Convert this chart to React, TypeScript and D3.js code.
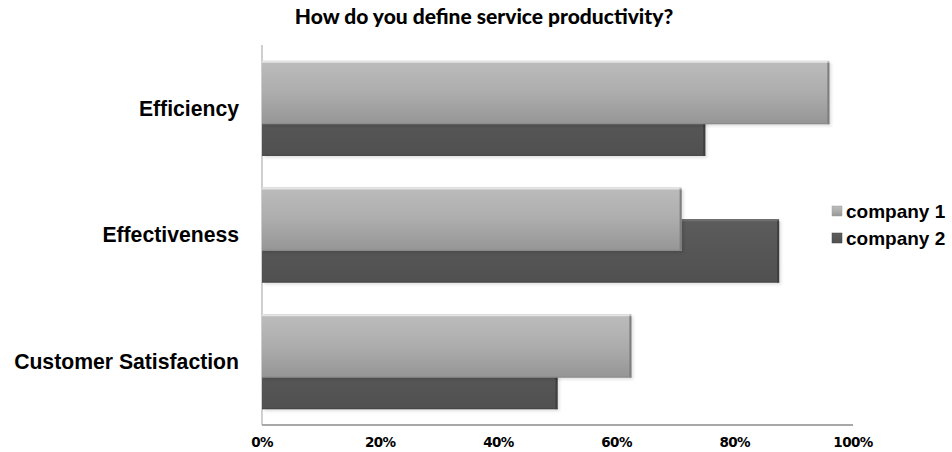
import React from "react";
import * as d3 from "d3";

const categories = ["Efficiency", "Effectiveness", "Customer Satisfaction"];
const company1 = [0.96, 0.71, 0.625];
const company2 = [0.75, 0.875, 0.5];
const seriesNames = ["company 1", "company 2"];
const tickValues = [0, 0.2, 0.4, 0.6, 0.8, 1.0];
const title = "How do you define service productivity?";

const W = 952;
const H = 452;
const left = 262;
const right = 853;
const top = 45;
const bottom = 425;

export default function App() {
  const x = d3.scaleLinear().domain([0, 1]).range([left, right]);
  const y = d3
    .scaleBand<string>()
    .domain(categories)
    .range([top, bottom])
    .paddingInner(0.25)
    .paddingOuter(0.125);
  const barH = y.bandwidth() / 1.5;
  const fmt = d3.format(".0%");

  const bar = (v: number, yy: number, fill: string, key: string, light: boolean) => {
    const w = x(v) - x(0);
    return (
      <g key={key}>
        <rect x={x(0) + 2} y={yy + 2} width={w} height={barH} fill="#000" opacity={0.12} filter="url(#blur)" />
        <rect x={x(0)} y={yy} width={w} height={barH} fill={fill} />
        <line x1={x(0)} x2={x(0) + w - 2} y1={yy + 1} y2={yy + 1} stroke={light ? "#e4e4e4" : "#6e6e6e"} strokeWidth={2} />
        <line x1={x(0) + w - 1} x2={x(0) + w - 1} y1={yy + 2} y2={yy + barH} stroke={light ? "#7e7e7e" : "#3e3e3e"} strokeWidth={2} />
        <line x1={x(0)} x2={x(0) + w} y1={yy + barH - 0.5} y2={yy + barH - 0.5} stroke={light ? "#8a8a8a" : "#454545"} strokeWidth={1} />
      </g>
    );
  };

  return (
    <div style={{ position: "absolute", left: 0, top: 0 }}>
      <svg width={W} height={H} style={{ display: "block", background: "#fff" }}>
        <defs>
          <linearGradient id="g1" x1="0" y1="0" x2="0" y2="1">
            <stop offset="0" stopColor="#bcbcbc" />
            <stop offset="0.5" stopColor="#adadad" />
            <stop offset="1" stopColor="#959595" />
          </linearGradient>
          <linearGradient id="g2" x1="0" y1="0" x2="0" y2="1">
            <stop offset="0" stopColor="#5c5c5c" />
            <stop offset="1" stopColor="#505050" />
          </linearGradient>
          <filter id="blur" x="-5%" y="-20%" width="110%" height="140%">
            <feGaussianBlur stdDeviation="1.5" />
          </filter>
        </defs>

        <text x={484} y={24} textAnchor="middle" fontFamily="Lato" fontWeight={900} fontSize={21} fill="#000">
          {title}
        </text>

        {/* axes */}
        <line x1={left} x2={left} y1={top} y2={bottom} stroke="#b0b0b0" strokeWidth={1.2} />
        <line x1={left} x2={right} y1={bottom} y2={bottom} stroke="#a8a8a8" strokeWidth={2} />

        {categories.map((c, i) => {
          const y0 = y(c)!;
          return (
            <g key={c}>
              {bar(company2[i], y0 + barH / 2, "url(#g2)", "b", false)}
              {bar(company1[i], y0, "url(#g1)", "a", true)}
              <text
                x={239}
                y={y0 + y.bandwidth() / 2}
                dy="0.35em"
                textAnchor="end"
                fontFamily="Liberation Sans, Arial"
                fontWeight={700}
                fontSize={21.2}
                fill="#000"
              >
                {c}
              </text>
            </g>
          );
        })}

        {tickValues.map((t) => (
          <text
            key={t}
            x={x(t)}
            y={442}
            dy="0.35em"
            textAnchor="middle"
            fontFamily="DejaVu Sans"
            fontWeight={700}
            fontSize={13.5}
            letterSpacing={-0.6}
            fill="#000"
          >
            {fmt(t)}
          </text>
        ))}

        {seriesNames.map((s, i) => {
          const ly = 211 + i * 27;
          return (
            <g key={s}>
              <rect x={832} y={ly - 5} width={10} height={10} fill={i === 0 ? "url(#g1)" : "url(#g2)"} stroke={i === 0 ? "#a0a0a0" : "#444"} strokeWidth={0.5} />
              <text x={846} y={ly} dy="0.35em" fontFamily="Liberation Sans, Arial" fontWeight={700} fontSize={19} fill="#000">
                {s}
              </text>
            </g>
          );
        })}
      </svg>
    </div>
  );
}
